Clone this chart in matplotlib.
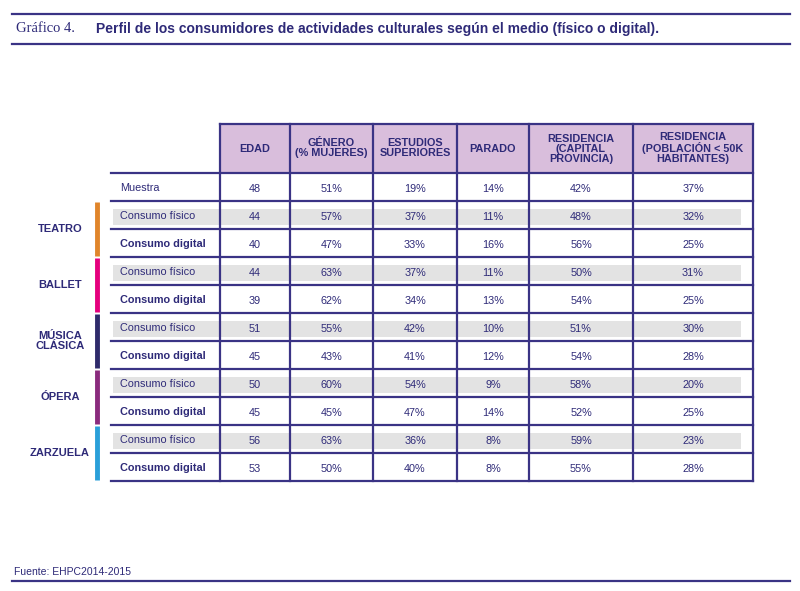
import matplotlib
matplotlib.use('Agg')
import matplotlib.pyplot as plt
from matplotlib.patches import Rectangle

# Data
columns = ['EDAD', 'GÉNERO\n(% MUJERES)', 'ESTUDIOS\nSUPERIORES', 'PARADO',
           'RESIDENCIA\n(CAPITAL\nPROVINCIA)', 'RESIDENCIA\n(POBLACIÓN < 50K\nHABITANTES)']
groups = ['TEATRO', 'BALLET', 'MÚSICA\nCLÁSICA', 'ÓPERA', 'ZARZUELA']
group_colors = ['#E0852B', '#E5007D', '#2F2B6B', '#8A2B7D', '#2A9FD9']
muestra = ['48', '51%', '19%', '14%', '42%', '37%']
fisico = [
    ['44', '57%', '37%', '11%', '48%', '32%'],
    ['44', '63%', '37%', '11%', '50%', '31%'],
    ['51', '55%', '42%', '10%', '51%', '30%'],
    ['50', '60%', '54%', '9%', '58%', '20%'],
    ['56', '63%', '36%', '8%', '59%', '23%'],
]
digital = [
    ['40', '47%', '33%', '16%', '56%', '25%'],
    ['39', '62%', '34%', '13%', '54%', '25%'],
    ['45', '43%', '41%', '12%', '54%', '28%'],
    ['45', '45%', '47%', '14%', '52%', '25%'],
    ['53', '50%', '40%', '8%', '55%', '28%'],
]

navy = '#2E2A78'
line_c = '#3A3385'
head_fill = '#D9BEDC'

fig = plt.figure(figsize=(8, 5.91), dpi=100)
ax = fig.add_axes([0, 0, 1, 1])
ax.set_xlim(0, 800)
ax.set_ylim(591, 0)
ax.axis('off')
plt.rcParams['font.family'] = ['Liberation Sans', 'DejaVu Sans']

# title rules
for y in (14, 44):
    ax.plot([12, 790], [y, y], color=line_c, lw=1.6)
ax.text(16, 29, 'Gráfico 4.', fontsize=10.5, color=navy, family='Liberation Serif', va='center')
ax.text(96, 29, 'Perfil de los consumidores de actividades culturales según el medio (físico o digital).',
        fontsize=10, color=navy, weight='bold', va='center')

xs = [111, 220, 290, 373, 457, 529, 633, 753]
top, htop = 124, 173
rh = 28.0
nrows = 11

# header
ax.add_patch(Rectangle((xs[1], top), xs[-1] - xs[1], htop - top, facecolor=head_fill, edgecolor='none'))
for i, c in enumerate(columns):
    ax.text((xs[i + 1] + xs[i + 2]) / 2, (top + htop) / 2, c, ha='center', va='center',
            fontsize=7.8, weight='bold', color=navy, linespacing=1.0)

# rows
rows = [('Muestra', muestra, False, False)]
for f, d in zip(fisico, digital):
    rows.append(('Consumo físico', f, True, False))
    rows.append(('Consumo digital', d, False, True))

for r, (lab, vals, gray, bold) in enumerate(rows):
    y0 = htop + r * rh
    if gray:
        ax.add_patch(Rectangle((113, y0 + 8), 628, rh - 12, facecolor='#E3E3E3', edgecolor='none', zorder=0))
    ax.text(120, y0 + rh / 2 + 1, lab, fontsize=7.8, color=navy, va='center',
            weight='bold' if bold else 'normal')
    for i, v in enumerate(vals):
        ax.text((xs[i + 1] + xs[i + 2]) / 2, y0 + rh / 2 + 2, v, ha='center', va='center',
                fontsize=7.8, color=navy)

# lines
bottom = htop + nrows * rh
ax.plot([xs[1], xs[-1]], [top, top], color=line_c, lw=1.6)
for r in range(nrows + 1):
    y = htop + r * rh
    ax.plot([xs[0], xs[-1]], [y, y], color=line_c, lw=1.6)
for x in xs[1:]:
    ax.plot([x, x], [top, bottom], color=line_c, lw=1.6)

# group labels and colour bars
for g, (name, col) in enumerate(zip(groups, group_colors)):
    y0 = htop + (1 + 2 * g) * rh
    ax.plot([97, 97], [y0 + 1, y0 + 2 * rh - 1], color=col, lw=3.5, solid_capstyle='butt')
    ax.text(60, y0 + rh, name, ha='center', va='center', fontsize=8, weight='bold',
            color=navy, linespacing=1.1)

ax.text(14, 572, 'Fuente: EHPC2014-2015', fontsize=7.5, color=navy, va='center')
ax.plot([12, 790], [581, 581], color=line_c, lw=1.6)

fig.savefig('out.png', dpi=100)
